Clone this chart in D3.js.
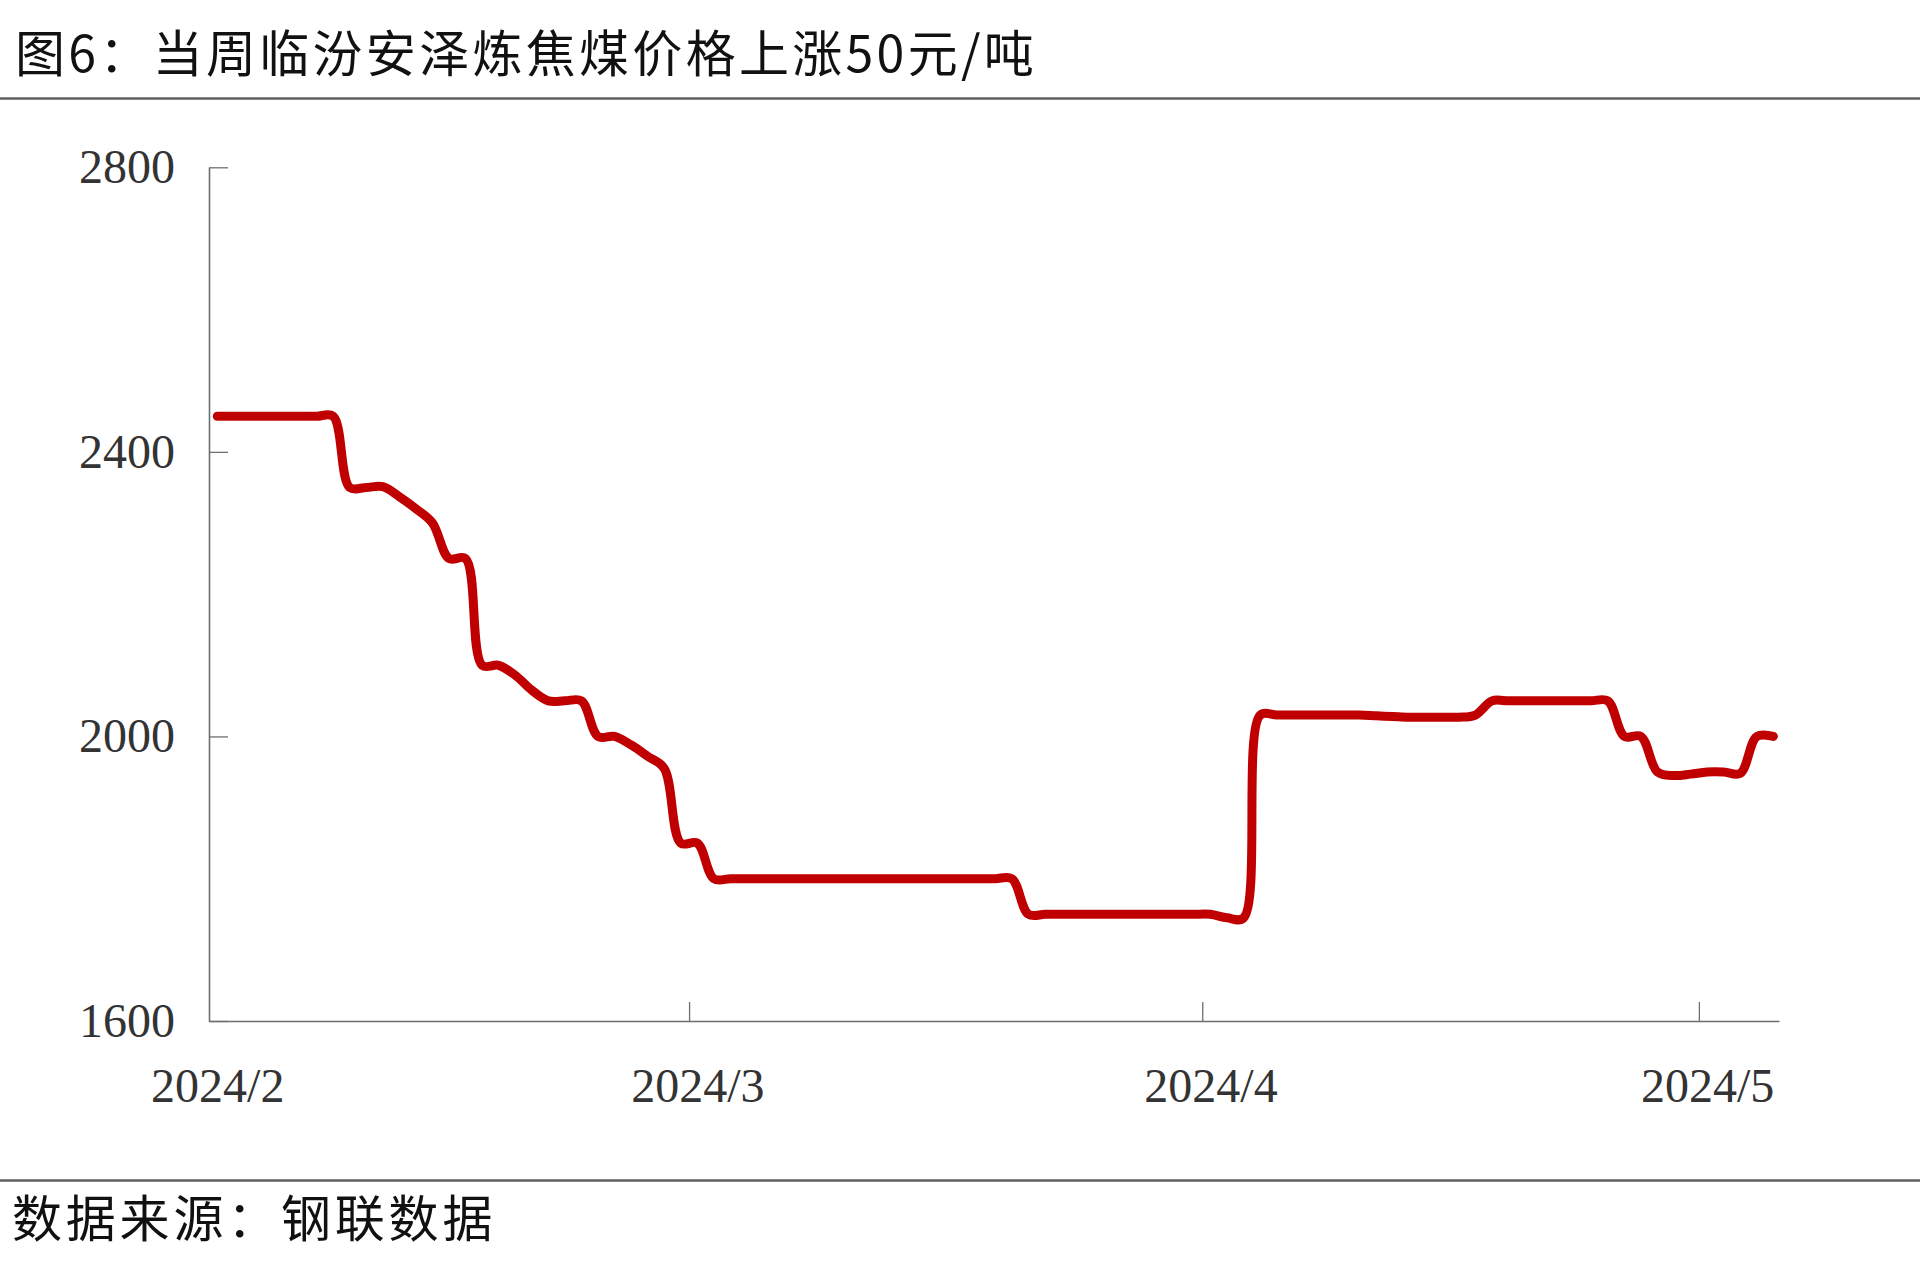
<!DOCTYPE html>
<html>
<head>
<meta charset="utf-8">
<script src="https://cdn.jsdelivr.net/npm/d3@7"></script>
<style>
  html, body { margin: 0; padding: 0; background: #fff; }
  svg { display: block; }
</style>
</head>
<body>
<svg id="chart" width="1920" height="1279"></svg>
<script>
// ---------- data ----------
const titleText = "图6：当周临汾安泽炼焦煤价格上涨50元/吨";
const sourceText = "数据来源：钢联数据";
const startDate = "2024-02-01";   // first daily observation
const endDate = "2024-05-05";     // last daily observation
// daily prices (元/吨), Feb 1 .. May 5 2024
const prices = [
  2450, 2450, 2450, 2450, 2450, 2450, 2450, 2450,           // Feb 1-8
  2350, 2350, 2351, 2337, 2320, 2300, 2250, 2250,           // Feb 9-16
  2100, 2100, 2086, 2065, 2050, 2050, 2050,                 // Feb 17-23
  2000, 2000, 1988, 1972, 1955, 1850,                       // Feb 24-29
  1850, 1800, 1800, 1800, 1800, 1800, 1800, 1800, 1800, 1800, // Mar 1-10
  1800, 1800, 1800, 1800, 1800, 1800, 1800, 1800, 1800, 1800, // Mar 11-20
  1750, 1750, 1750, 1750, 1750, 1750, 1750, 1750, 1750, 1750, 1750, // Mar 21-31
  1750, 1745, 1745, 2030, 2030, 2030, 2030, 2030, 2030, 2030, // Apr 1-10
  2029, 2028, 2027, 2027, 2027, 2027, 2030, 2050, 2050, 2050, // Apr 11-20
  2050, 2050, 2050, 2050, 2050, 2000, 2000, 1950, 1945, 1947, // Apr 21-30
  1950, 1950, 1948, 2000, 2000                              // May 1-5
];
const yTicks = [1600, 2000, 2400, 2800];
const xTickDates = ["2024-02-01", "2024-03-01", "2024-04-01", "2024-05-01"];
const xTickLabels = ["2024/2", "2024/3", "2024/4", "2024/5"];

// ---------- setup ----------
const parse = d3.utcParse("%Y-%m-%d");
const DAY = 864e5;
const t0 = parse(startDate);
const data = prices.map((v, i) => ({ date: new Date(t0.getTime() + i * DAY), value: v }));

const svg = d3.select("#chart");
const plotLeft = 209, plotRight = 1779, plotTop = 167.3, plotBottom = 1021;

const x = d3.scaleUtc()
  .domain([t0, new Date(parse(endDate).getTime() + 0.84 * DAY)])
  .range([plotLeft, plotRight]);
const y = d3.scaleLinear().domain([1600, 2800]).range([plotBottom, plotTop]);

// title + separators
svg.append("text")
  .attr("x", 15).attr("y", 72)
  .attr("font-family", "'Noto Sans CJK SC', 'Noto Sans', sans-serif")
  .attr("font-size", 50).attr("letter-spacing", 3.3)
  .attr("fill", "#111")
  .text(titleText);
svg.append("line").attr("x1", 0).attr("x2", 1920).attr("y1", 98.5).attr("y2", 98.5)
  .attr("stroke", "#5f5f5f").attr("stroke-width", 2.5);
svg.append("line").attr("x1", 0).attr("x2", 1920).attr("y1", 1180.5).attr("y2", 1180.5)
  .attr("stroke", "#5f5f5f").attr("stroke-width", 2.5);
svg.append("text")
  .attr("x", 12).attr("y", 1237)
  .attr("font-family", "'Noto Sans CJK SC', 'Noto Sans', sans-serif")
  .attr("font-size", 50).attr("letter-spacing", 3.8)
  .attr("fill", "#111")
  .text(sourceText);

// axes
const axisColor = "#6e6e6e";
const yAxis = d3.axisLeft(y).tickValues(yTicks).tickFormat(d3.format("d"))
  .tickSizeInner(-19).tickSizeOuter(0).tickPadding(34);
const gy = svg.append("g").attr("transform", `translate(${plotLeft},0)`).call(yAxis);

const xAxis = d3.axisBottom(x).tickValues(xTickDates.map(parse))
  .tickFormat((d, i) => xTickLabels[i])
  .tickSizeInner(-19).tickSizeOuter(0).tickPadding(47);
const gx = svg.append("g").attr("transform", `translate(0,${plotBottom})`).call(xAxis);

[gx, gy].forEach(g => {
  g.select(".domain").attr("stroke", axisColor).attr("stroke-width", 1.6);
  g.selectAll(".tick line").attr("stroke", axisColor).attr("stroke-width", 1.3);
  g.selectAll(".tick text")
    .attr("font-family", "'Liberation Serif', 'Times New Roman', serif")
    .attr("font-size", 48).attr("fill", "#333");
});
// x labels sit in the middle of their day slot
const half = x(new Date(t0.getTime() + DAY / 2)) - x(t0);
gx.selectAll(".tick text").attr("x", half);
gx.selectAll(".tick").filter((d, i) => i === 0).select("line").remove();

// line
const line = d3.line()
  .x(d => x(new Date(d.date.getTime() + DAY / 2)))
  .y(d => y(d.value))
  .curve(d3.curveCatmullRom.alpha(0.5));

svg.append("path")
  .datum(data)
  .attr("fill", "none")
  .attr("stroke", "#C00000")
  .attr("stroke-width", 9)
  .attr("stroke-linecap", "round")
  .attr("stroke-linejoin", "round")
  .attr("d", line);
</script>
</body>
</html>
